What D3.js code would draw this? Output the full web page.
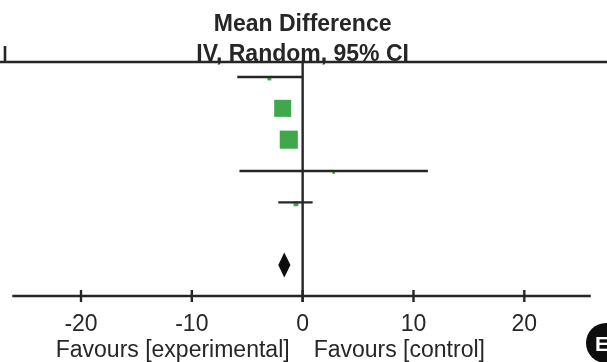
<!DOCTYPE html>
<html>
<head>
<meta charset="utf-8">
<script src="https://cdn.jsdelivr.net/npm/d3@7"></script>
<style>
  body { margin: 0; background: #fff; }
  svg { display: block; font-family: "Liberation Sans", Arial, sans-serif; }
</style>
</head>
<body>
<div id="chart"></div>
<script>
// study rows (mean difference, 95% CI, weight %)
var study_rows = [0, 1, 2, 3, 4];
var study_means = [-3.0, -1.8, -1.25, 2.8, -0.6];
var study_lows = [-5.9, -2.4, -1.8, -5.7, -2.2];
var study_highs = [0.0, -1.1, -0.6, 11.3, 0.9];
var study_weights = [2.2, 43.8, 49.4, 1.1, 3.5];

// pooled estimate
var total_row = 6;
var total_mean = -1.66;
var total_low = -2.2;
var total_high = -1.1;

var tick_values = [-20, -10, 0, 10, 20];
var axis_extent = [-26.2, 26.0];
var title_lines = ["Mean Difference", "IV, Random, 95% CI"];
var favour_labels = ["Favours [experimental]", "Favours [control]"];
var panel_letter = "E";

function createForest() {
	var width = 607, height = 362;
	var ink = "#262626", green = "#3fa84c";

	var svg = d3.select("#chart").append("svg")
		.attr("width", width)
		.attr("height", height);

	// the source figure is a soft, upscaled bitmap
	svg.append("defs").append("filter")
		.attr("id", "soft")
		.append("feGaussianBlur")
		.attr("stdDeviation", 0.55);

	var g = svg.append("g").attr("filter", "url(#soft)");

	var x = d3.scaleLinear().domain([-20, 20]).range([81, 524.3]);
	var y = d3.scaleLinear().domain([0, 6]).range([77, 265]);
	var size = d3.scaleSqrt().domain([0, 50]).range([0, 18.2]);

	var top_y = 62, axis_y = 296;

	// title
	g.selectAll("text.title").data(title_lines)
		.enter().append("text")
		.attr("class", "title")
		.attr("x", x(0))
		.attr("y", function(d, i){ return 31 + i * 30; })
		.attr("text-anchor", "middle")
		.attr("font-size", 23)
		.attr("font-weight", "bold")
		.attr("fill", ink)
		.text(function(d){ return d; });

	// header rule and column edge
	g.append("line")
		.attr("x1", 0).attr("x2", width)
		.attr("y1", top_y).attr("y2", top_y)
		.attr("stroke", ink).attr("stroke-width", 2.6);
	g.append("line")
		.attr("x1", 5).attr("x2", 5)
		.attr("y1", 46).attr("y2", top_y)
		.attr("stroke", ink).attr("stroke-width", 2.6);

	// line of no effect
	g.append("line")
		.attr("x1", x(0)).attr("x2", x(0))
		.attr("y1", top_y).attr("y2", axis_y + 6)
		.attr("stroke", ink).attr("stroke-width", 2.4);

	// study markers (drawn under the CI lines)
	g.selectAll("rect.study").data(study_rows)
		.enter().append("rect")
		.attr("class", "study")
		.attr("x", function(d, i){ return x(study_means[i]) - size(study_weights[i]) / 2; })
		.attr("y", function(d, i){ return y(d) - size(study_weights[i]) / 2 + (study_weights[i] < 10 ? 1.5 : 0); })
		.attr("width", function(d, i){ return size(study_weights[i]); })
		.attr("height", function(d, i){ return size(study_weights[i]); })
		.attr("fill", green);

	g.selectAll("line.ci").data(study_rows)
		.enter().append("line")
		.attr("class", "ci")
		.attr("x1", function(d, i){ return x(study_lows[i]); })
		.attr("x2", function(d, i){ return x(study_highs[i]); })
		.attr("y1", function(d){ return y(d); })
		.attr("y2", function(d){ return y(d); })
		.attr("stroke", ink)
		.attr("stroke-width", function(d, i){ return study_weights[i] < 10 ? 2.4 : 0; });

	// pooled diamond
	var cy = y(total_row), half_h = 12.5;
	g.append("path")
		.attr("d", "M" + x(total_low) + "," + cy +
			"L" + x(total_mean) + "," + (cy - half_h) +
			"L" + x(total_high) + "," + cy +
			"L" + x(total_mean) + "," + (cy + half_h) + "Z")
		.attr("fill", "#111");

	// x axis
	g.append("line")
		.attr("x1", x(axis_extent[0])).attr("x2", x(axis_extent[1]))
		.attr("y1", axis_y).attr("y2", axis_y)
		.attr("stroke", ink).attr("stroke-width", 2.6);

	g.selectAll("line.tick").data(tick_values)
		.enter().append("line")
		.attr("class", "tick")
		.attr("x1", function(d){ return x(d); })
		.attr("x2", function(d){ return x(d); })
		.attr("y1", axis_y - 6).attr("y2", axis_y + 6)
		.attr("stroke", ink).attr("stroke-width", 2.4);

	g.selectAll("text.tick").data(tick_values)
		.enter().append("text")
		.attr("class", "tick")
		.attr("x", function(d){ return x(d); })
		.attr("y", 331)
		.attr("text-anchor", "middle")
		.attr("font-size", 23)
		.attr("fill", ink)
		.text(function(d){ return d; });

	g.selectAll("text.favour").data(favour_labels)
		.enter().append("text")
		.attr("class", "favour")
		.attr("x", function(d, i){ return i == 0 ? x(0) - 13 : x(0) + 11; })
		.attr("y", 357)
		.attr("text-anchor", function(d, i){ return i == 0 ? "end" : "start"; })
		.attr("font-size", 23)
		.attr("fill", ink)
		.text(function(d){ return d; });

	// panel badge, cut by the right edge as in the source
	g.append("circle")
		.attr("cx", 606).attr("cy", 343).attr("r", 20)
		.attr("fill", "#111");
	g.append("text")
		.attr("x", 595).attr("y", 351)
		.attr("font-size", 21)
		.attr("font-weight", "bold")
		.attr("fill", "#fff")
		.text(panel_letter);
}

createForest();
</script>
</body>
</html>
